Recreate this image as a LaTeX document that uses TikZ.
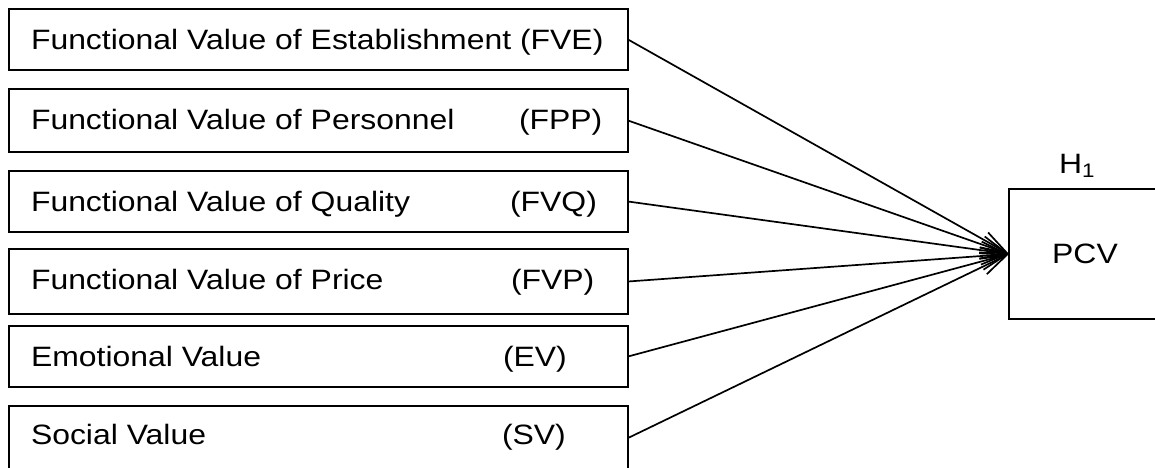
\documentclass[tikz,border=0pt]{standalone}
\usepackage{fontspec}
\setmainfont{Liberation Sans}[FakeStretch=1.14]
\usetikzlibrary{arrows.meta}

\begin{document}
\begin{tikzpicture}[x=1pt, y=-1pt,
  font=\fontsize{28}{33}\selectfont,
  vbox/.style={draw, line width=1.9pt, rectangle, anchor=north west,
    minimum width=619pt, inner sep=0pt, outer sep=0pt},
  lbl/.style={anchor=base west, inner sep=0pt, outer sep=0pt},
  conn/.style={line width=1.7pt, -{Straight Barb[length=26pt, width=17pt]}}]

  \useasboundingbox (0,0) rectangle (1155,467);

  % value dimensions
  \node[vbox, minimum height=61pt] (fve) at (9,9) {};
  \node[vbox, minimum height=63pt] (fpp) at (9,89) {};
  \node[vbox, minimum height=61pt] (fvq) at (9,171) {};
  \node[vbox, minimum height=65pt] (fvp) at (9,249) {};
  \node[vbox, minimum height=61pt] (ev)  at (9,326) {};
  \node[vbox, minimum height=64pt] (sv)  at (9,406) {};

  \node[lbl] (fve-t) at (31,49)  {Functional Value of Establishment (FVE)};
  \node[lbl] (fpp-t) at (31,129) {Functional Value of Personnel};
  \node[lbl] (fvq-t) at (31,211) {Functional Value of Quality};
  \node[lbl] (fvp-t) at (31,289) {Functional Value of Price};
  \node[lbl] (ev-t)  at (31,366) {Emotional Value};
  \node[lbl] (sv-t)  at (31,444) {Social Value};

  \node[lbl] (fpp-a) at (519,129) {(FPP)};
  \node[lbl] (fvq-a) at (510,211) {(FVQ)};
  \node[lbl] (fvp-a) at (511,289) {(FVP)};
  \node[lbl] (ev-a)  at (503,366) {(EV)};
  \node[lbl] (sv-a)  at (502,444) {(SV)};

  % outcome
  \node[draw, line width=1.9pt, rectangle, anchor=north west,
    minimum width=152pt, minimum height=130pt, inner sep=0pt, outer sep=0pt]
    (pcv) at (1009,189) {PCV};
  \node[lbl] (h1) at (1059,173) {H\textsubscript{1}};

  % hypothesised paths
  \foreach \src in {fve,fpp,fvq,fvp,ev,sv}
    \draw[conn] (\src.east) -- (pcv.west);
\end{tikzpicture}
\end{document}
